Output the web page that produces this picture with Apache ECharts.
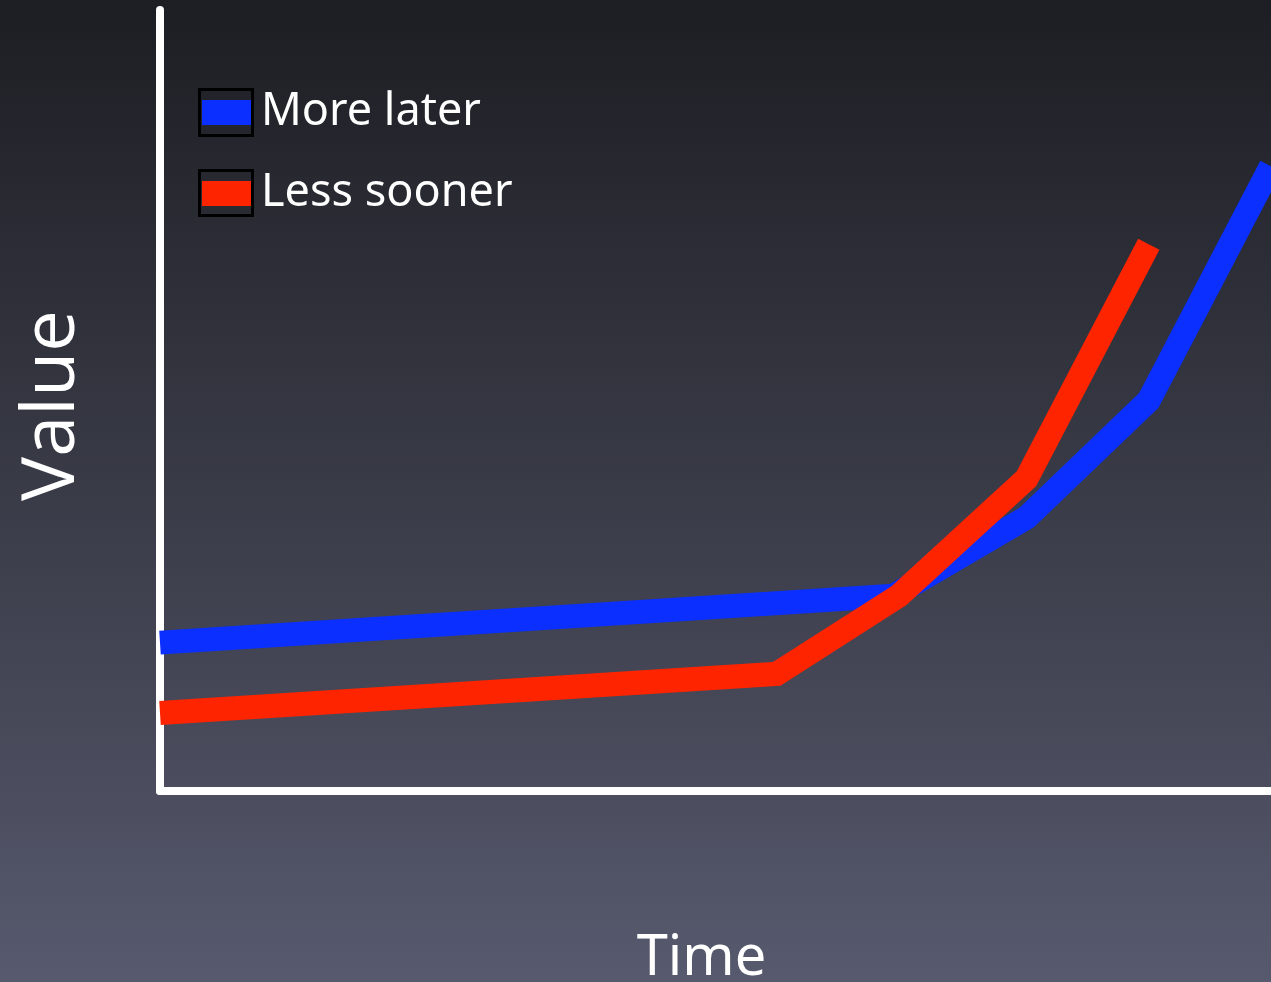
<!DOCTYPE html>
<html>
<head>
<meta charset="utf-8">
<script src="https://cdn.jsdelivr.net/npm/echarts@6/dist/echarts.min.js"></script>
<style>
  html, body { margin: 0; padding: 0; background: #1d1e23; }
  #chart { width: 1271px; height: 982px; }
</style>
</head>
<body>
<div id="chart"></div>
<script>
// Data
const seriesNames = ['More later', 'Less sooner'];
const moreLaterTime  = [0, 66, 78, 89, 100];
const moreLaterValue = [19, 25, 35, 50, 80];
const lessSoonerTime  = [0, 55.5, 66.5, 78, 89];
const lessSoonerValue = [10, 15, 25, 40, 70];
const xAxisName = 'Time';
const yAxisName = 'Value';

const pair = (xs, ys) => xs.map((x, i) => [x, ys[i]]);

const FONT = '"Comic Sans MS", "Noto Sans", "Open Sans", sans-serif';
const chart = echarts.init(document.getElementById('chart'), null, { renderer: 'canvas' });

chart.setOption({
  animation: false,
  backgroundColor: {
    type: 'linear', x: 0, y: 0, x2: 0, y2: 1,
    colorStops: [
      { offset: 0, color: '#1d1e23' },
      { offset: 0.5, color: '#393b47' },
      { offset: 1, color: '#57596e' }
    ]
  },
  grid: { left: 160, right: 0, top: 10, bottom: 191, containLabel: false, outerBoundsMode: 'none' },
  legend: {
    data: seriesNames,
    orient: 'vertical',
    left: 202,
    top: 76.5,
    padding: 0,
    itemGap: 9,
    icon: 'rect',
    itemWidth: 50,
    itemHeight: 25,
    selectedMode: false,
    textStyle: {
      color: '#ffffff',
      fontSize: 45,
      fontFamily: FONT,
      lineHeight: 50,
      padding: [0, 0, 22, 4]
    }
  },
  xAxis: {
    type: 'value', min: 0, max: 100,
    name: xAxisName,
    nameLocation: 'middle',
    nameGap: 140,
    nameTextStyle: { color: '#ffffff', fontSize: 56, fontFamily: FONT, padding: [0, 28, 0, 0] },
    axisLine: { show: true, onZero: false, lineStyle: { color: '#ffffff', width: 8 } },
    axisTick: { show: false },
    axisLabel: { show: false },
    splitLine: { show: false }
  },
  yAxis: {
    type: 'value', min: 0, max: 100,
    name: yAxisName,
    nameLocation: 'middle',
    nameGap: 70,
    nameRotate: 90,
    nameTextStyle: { color: '#ffffff', fontSize: 74, fontFamily: '"Open Sans", "Noto Sans", sans-serif', padding: [0, 10, 0, 0] },
    axisLine: { show: true, onZero: false, lineStyle: { color: '#ffffff', width: 8 } },
    axisTick: { show: false },
    axisLabel: { show: false },
    splitLine: { show: false }
  },
  graphic: [
    { type: 'rect', silent: true, z: 100, shape: { x: 199.5, y: 89.5, width: 53, height: 46 },
      style: { fill: 'none', stroke: '#000000', lineWidth: 3 } },
    { type: 'rect', silent: true, z: 100, shape: { x: 199.5, y: 170.5, width: 53, height: 45 },
      style: { fill: 'none', stroke: '#000000', lineWidth: 3 } }
  ],
  series: [
    {
      name: seriesNames[0], type: 'line', data: pair(moreLaterTime, moreLaterValue),
      showSymbol: false, symbol: 'none', clip: false, silent: true,
      color: '#0a2fff',
      lineStyle: { color: '#0a2fff', width: 24, cap: 'butt', join: 'miter' }
    },
    {
      name: seriesNames[1], type: 'line', data: pair(lessSoonerTime, lessSoonerValue),
      showSymbol: false, symbol: 'none', clip: false, silent: true,
      color: '#ff2400',
      lineStyle: { color: '#ff2400', width: 24, cap: 'butt', join: 'miter' }
    }
  ]
});
</script>
</body>
</html>
